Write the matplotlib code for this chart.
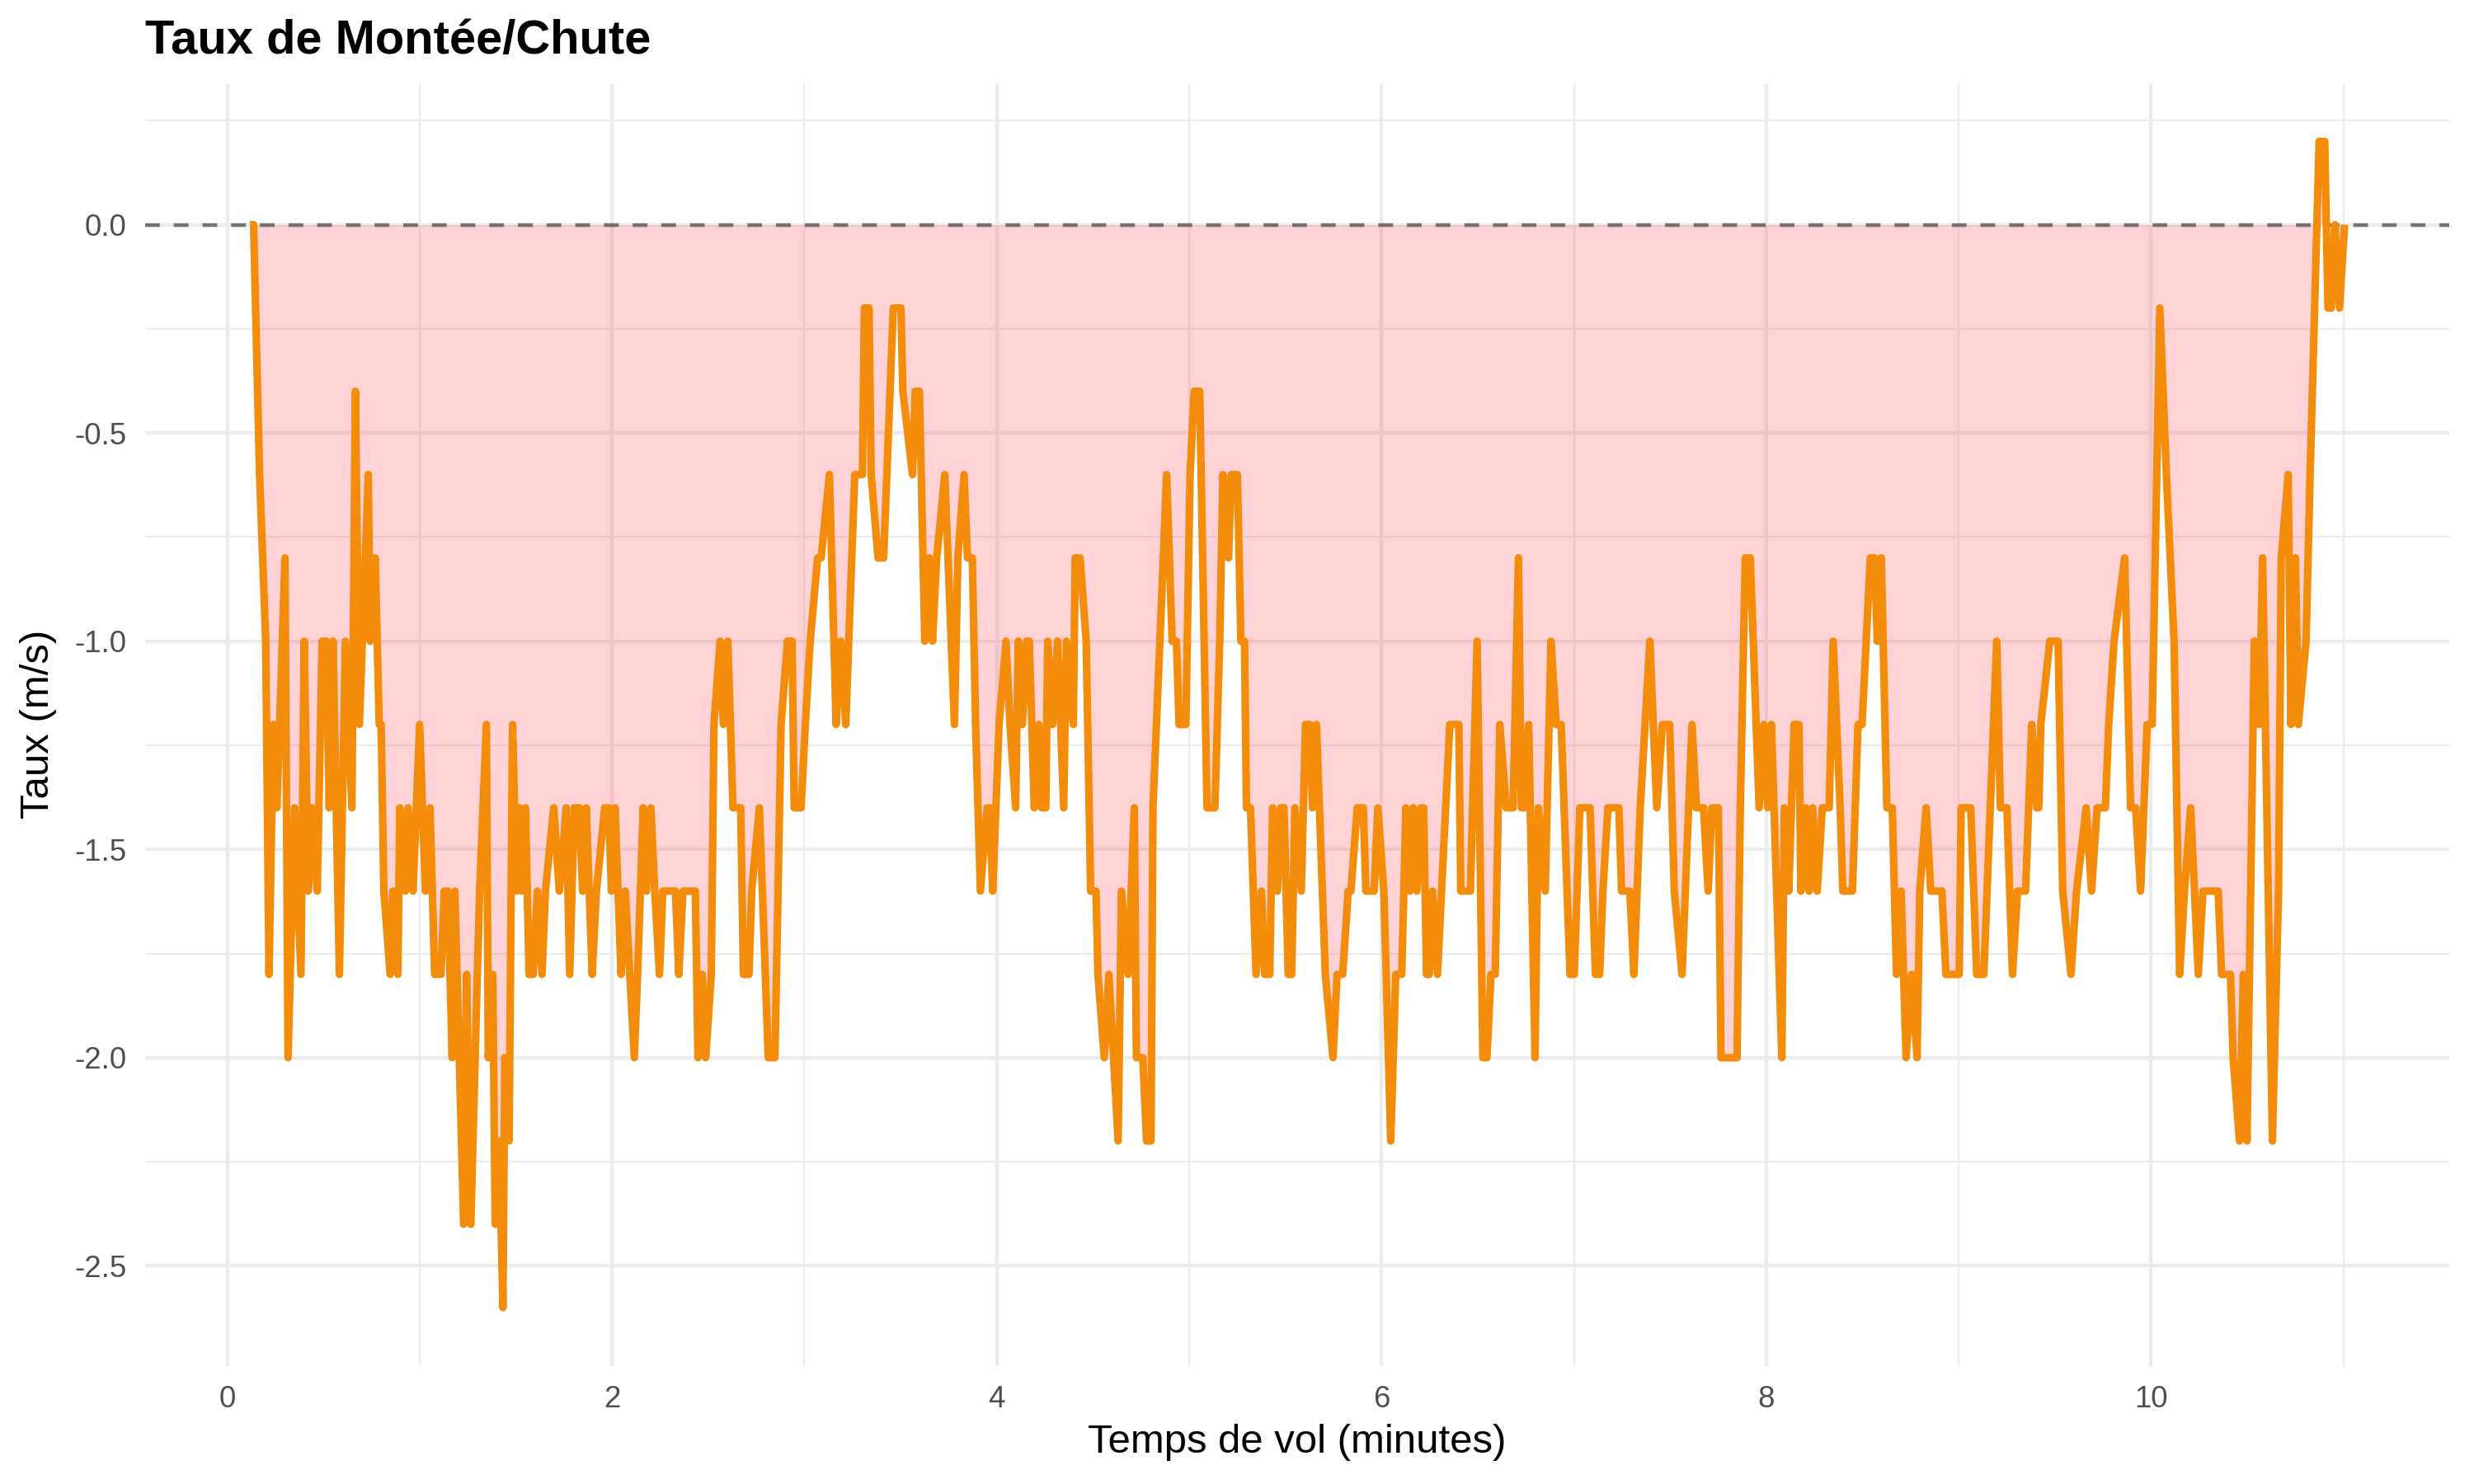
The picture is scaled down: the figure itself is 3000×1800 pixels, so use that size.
import matplotlib
matplotlib.use("Agg")
import matplotlib.pyplot as plt
from matplotlib.ticker import MultipleLocator, FormatStrFormatter

plt.rcParams["font.family"] = ["Liberation Sans", "DejaVu Sans"]
plt.rcParams["axes.unicode_minus"] = False

# flight time (minutes) and climb/sink rate (m/s)
time_min = [
    0.118, 0.137, 0.168, 0.200, 0.217, 0.240, 0.258, 0.300, 0.316, 0.350,
    0.383, 0.400, 0.421, 0.440, 0.468, 0.493, 0.516, 0.530, 0.550, 0.583,
    0.614, 0.648, 0.666, 0.687, 0.733, 0.743, 0.769, 0.790, 0.800, 0.814,
    0.847, 0.861, 0.887, 0.897, 0.926, 0.940, 0.966, 1.000, 1.030, 1.054,
    1.078, 1.111, 1.128, 1.147,
    1.169, 1.183, 1.229, 1.244, 1.266, 1.300, 1.312, 1.347, 1.357, 1.380,
    1.393, 1.414, 1.433, 1.443, 1.465, 1.483, 1.504, 1.519, 1.530, 1.550,
    1.569, 1.590, 1.612, 1.636, 1.654, 1.697, 1.726, 1.762, 1.780, 1.804,
    1.830, 1.847, 1.866, 1.897, 1.919, 1.962, 1.983, 1.997, 2.016, 2.047,
    2.069, 2.116, 2.133, 2.162, 2.179, 2.202, 2.222, 2.247, 2.264,
    2.290, 2.330, 2.347, 2.369, 2.433, 2.447, 2.469, 2.487, 2.516, 2.530,
    2.562, 2.579, 2.602, 2.629, 2.669, 2.683, 2.712, 2.726, 2.766, 2.797,
    2.812, 2.847, 2.879, 2.912, 2.936, 2.947, 2.983, 3.005, 3.030, 3.069,
    3.087, 3.130, 3.165, 3.190, 3.215, 3.262, 3.302, 3.312, 3.336, 3.347,
    3.383,
    3.412, 3.462, 3.502, 3.512, 3.562, 3.576, 3.598, 3.626, 3.650, 3.666,
    3.688, 3.730, 3.780, 3.798, 3.830, 3.848, 3.873, 3.890, 3.915, 3.950,
    3.962, 3.979, 4.012, 4.048, 4.069, 4.098, 4.112, 4.133, 4.155, 4.169,
    4.195, 4.219, 4.233, 4.255, 4.265, 4.290, 4.316, 4.348, 4.362, 4.398,
    4.408, 4.433, 4.465, 4.488,
    4.516, 4.526, 4.559, 4.583, 4.631, 4.648, 4.683, 4.715, 4.726, 4.759,
    4.779, 4.802, 4.812, 4.848, 4.883, 4.912, 4.934, 4.948, 4.983, 5.005,
    5.026, 5.055, 5.093, 5.134, 5.159, 5.176, 5.205, 5.219, 5.251, 5.269,
    5.288, 5.298, 5.319, 5.348, 5.376, 5.393, 5.419, 5.434, 5.459, 5.476,
    5.493, 5.515, 5.533, 5.550, 5.583, 5.605,
    5.627, 5.641, 5.662, 5.708, 5.748, 5.769, 5.798, 5.827, 5.841, 5.874,
    5.905, 5.919, 5.962, 5.981, 6.012, 6.048, 6.074, 6.105, 6.127, 6.148,
    6.165, 6.184, 6.205, 6.219, 6.234, 6.248, 6.265, 6.291, 6.312, 6.355,
    6.402, 6.412, 6.462, 6.497, 6.527, 6.548, 6.569, 6.591, 6.615, 6.648,
    6.684, 6.712, 6.727,
    6.741, 6.765, 6.798, 6.815, 6.851, 6.881, 6.908, 6.934, 6.980, 7.002,
    7.031, 7.084, 7.112, 7.134, 7.151, 7.177, 7.234, 7.248, 7.291, 7.312,
    7.345, 7.395, 7.431, 7.460, 7.498, 7.522, 7.562, 7.614, 7.637, 7.674,
    7.698, 7.717, 7.751, 7.765, 7.831,
    7.848, 7.865, 7.891, 7.917, 7.963, 7.988, 8.008, 8.027, 8.081, 8.094,
    8.117, 8.145, 8.170, 8.180, 8.205, 8.223, 8.241, 8.265, 8.291, 8.327,
    8.348, 8.384, 8.398, 8.448, 8.477, 8.498, 8.541, 8.563, 8.577, 8.598,
    8.627, 8.655, 8.677, 8.701, 8.727, 8.755, 8.784, 8.798, 8.831, 8.855,
    8.913, 8.934, 8.960,
    8.970, 9.003, 9.013, 9.063, 9.094, 9.131, 9.198, 9.217, 9.251, 9.280,
    9.306, 9.348, 9.380, 9.406, 9.417, 9.427, 9.474, 9.517, 9.541, 9.584,
    9.613, 9.663, 9.691, 9.720, 9.763, 9.780, 9.808, 9.863, 9.894, 9.920,
    9.946, 9.980, 10.006, 10.046,
    10.080, 10.120, 10.149, 10.174, 10.206, 10.246, 10.270, 10.349, 10.367, 10.413,
    10.427, 10.460, 10.480, 10.499, 10.537, 10.563, 10.580, 10.631, 10.663, 10.677,
    10.713, 10.727, 10.751, 10.766, 10.806, 10.827, 10.874, 10.903, 10.920, 10.937,
    10.956, 10.980, 11.006,
]

rate_ms = [
    0.0, 0.0, -0.6, -1.0, -1.8, -1.2, -1.4, -0.8, -2.0, -1.4,
    -1.8, -1.0, -1.6, -1.4, -1.6, -1.0, -1.0, -1.4, -1.0, -1.8,
    -1.0, -1.4, -0.4, -1.2, -0.6, -1.0, -0.8, -1.2, -1.2, -1.6,
    -1.8, -1.6, -1.8, -1.4, -1.6, -1.4, -1.6, -1.2, -1.6, -1.4,
    -1.8, -1.8, -1.6, -1.6,
    -2.0, -1.6, -2.4, -1.8, -2.4, -1.8, -1.6, -1.2, -2.0, -1.8,
    -2.4, -2.2, -2.6, -2.0, -2.2, -1.2, -1.6, -1.4, -1.6, -1.4,
    -1.8, -1.8, -1.6, -1.8, -1.6, -1.4, -1.6, -1.4, -1.8, -1.4,
    -1.4, -1.6, -1.4, -1.8, -1.6, -1.4, -1.4, -1.6, -1.4, -1.8,
    -1.6, -2.0, -1.8, -1.4, -1.6, -1.4, -1.6, -1.8, -1.6,
    -1.6, -1.6, -1.8, -1.6, -1.6, -2.0, -1.8, -2.0, -1.8, -1.2,
    -1.0, -1.2, -1.0, -1.4, -1.4, -1.8, -1.8, -1.6, -1.4, -1.8,
    -2.0, -2.0, -1.2, -1.0, -1.0, -1.4, -1.4, -1.2, -1.0, -0.8,
    -0.8, -0.6, -1.2, -1.0, -1.2, -0.6, -0.6, -0.2, -0.2, -0.6,
    -0.8,
    -0.8, -0.2, -0.2, -0.4, -0.6, -0.4, -0.4, -1.0, -0.8, -1.0,
    -0.8, -0.6, -1.2, -0.8, -0.6, -0.8, -0.8, -1.2, -1.6, -1.4,
    -1.4, -1.6, -1.2, -1.0, -1.2, -1.4, -1.0, -1.2, -1.0, -1.0,
    -1.4, -1.2, -1.4, -1.4, -1.0, -1.2, -1.0, -1.4, -1.0, -1.2,
    -0.8, -0.8, -1.0, -1.6,
    -1.6, -1.8, -2.0, -1.8, -2.2, -1.6, -1.8, -1.4, -2.0, -2.0,
    -2.2, -2.2, -1.4, -1.0, -0.6, -1.0, -1.0, -1.2, -1.2, -0.6,
    -0.4, -0.4, -1.4, -1.4, -1.0, -0.6, -0.8, -0.6, -0.6, -1.0,
    -1.0, -1.4, -1.4, -1.8, -1.6, -1.8, -1.8, -1.4, -1.6, -1.4,
    -1.4, -1.8, -1.8, -1.4, -1.6, -1.2,
    -1.2, -1.4, -1.2, -1.8, -2.0, -1.8, -1.8, -1.6, -1.6, -1.4,
    -1.4, -1.6, -1.6, -1.4, -1.6, -2.2, -1.8, -1.8, -1.4, -1.6,
    -1.4, -1.6, -1.4, -1.4, -1.8, -1.8, -1.6, -1.8, -1.6, -1.2,
    -1.2, -1.6, -1.6, -1.0, -2.0, -2.0, -1.8, -1.8, -1.2, -1.4,
    -1.4, -0.8, -1.4,
    -1.4, -1.2, -2.0, -1.4, -1.6, -1.0, -1.2, -1.2, -1.8, -1.8,
    -1.4, -1.4, -1.8, -1.8, -1.6, -1.4, -1.4, -1.6, -1.6, -1.8,
    -1.4, -1.0, -1.4, -1.2, -1.2, -1.6, -1.8, -1.2, -1.4, -1.4,
    -1.6, -1.4, -1.4, -2.0, -2.0,
    -2.0, -1.4, -0.8, -0.8, -1.4, -1.2, -1.4, -1.2, -2.0, -1.4,
    -1.6, -1.2, -1.2, -1.6, -1.4, -1.6, -1.4, -1.6, -1.4, -1.4,
    -1.0, -1.4, -1.6, -1.6, -1.2, -1.2, -0.8, -0.8, -1.0, -0.8,
    -1.4, -1.4, -1.8, -1.6, -2.0, -1.8, -2.0, -1.6, -1.4, -1.6,
    -1.6, -1.8, -1.8,
    -1.8, -1.8, -1.4, -1.4, -1.8, -1.8, -1.0, -1.4, -1.4, -1.8,
    -1.6, -1.6, -1.2, -1.4, -1.4, -1.2, -1.0, -1.0, -1.6, -1.8,
    -1.6, -1.4, -1.6, -1.4, -1.4, -1.2, -1.0, -0.8, -1.4, -1.4,
    -1.6, -1.2, -1.2, -0.2,
    -0.6, -1.0, -1.8, -1.6, -1.4, -1.8, -1.6, -1.6, -1.8, -1.8,
    -2.0, -2.2, -1.8, -2.2, -1.0, -1.2, -0.8, -2.2, -1.6, -0.8,
    -0.6, -1.2, -0.8, -1.2, -1.0, -0.6, 0.2, 0.2, -0.2, -0.2,
    0.0, -0.2, 0.0,
]

x_ticks = [0, 2, 4, 6, 8, 10]
y_ticks = [0.0, -0.5, -1.0, -1.5, -2.0, -2.5]

title = "Taux de Montée/Chute"
x_label = "Temps de vol (minutes)"
y_label = "Taux (m/s)"

fig = plt.figure(figsize=(10, 6), dpi=300)
ax = fig.add_axes([0.0587, 0.0796, 0.9313, 0.8644])

# ggplot-like 5% expansion
x_span = max(time_min) - min(time_min)
y_span = max(rate_ms) - min(rate_ms)
ax.set_xlim(min(time_min) - 0.05 * x_span, max(time_min) + 0.05 * x_span)
ax.set_ylim(min(rate_ms) - 0.05 * y_span, max(rate_ms) + 0.05 * y_span)

ax.set_xticks(x_ticks)
ax.set_yticks(y_ticks)
ax.xaxis.set_minor_locator(MultipleLocator(1))
ax.yaxis.set_minor_locator(MultipleLocator(0.25))
ax.yaxis.set_major_formatter(FormatStrFormatter("%.1f"))
ax.set_axisbelow(True)
ax.grid(which="major", color="#EBEBEB", lw=1.07)
ax.grid(which="minor", color="#EBEBEB", lw=0.55)
for s in ax.spines.values():
    s.set_visible(False)
ax.tick_params(which="both", length=0)
ax.tick_params(which="major", labelsize=8.8, labelcolor="#4D4D4D", pad=5.5)

ax.fill_between(time_min, rate_ms, 0, color="#FF4D5A", alpha=0.25, lw=0)
ax.axhline(0, color="#555555", lw=1.07, ls=(0, (4.0, 3.8)), alpha=0.8)
ax.plot(time_min, rate_ms, color="#F28C0A", lw=2.2,
        solid_joinstyle="round", solid_capstyle="butt")

ax.set_xlabel(x_label, fontsize=11.8, labelpad=3)
ax.set_ylabel(y_label, fontsize=11.8, labelpad=5)
fig.text(0.0587, 0.964, title, fontsize=13.9, fontweight="bold",
         ha="left", va="baseline")

fig.savefig("out.png", dpi=300, facecolor="white")
